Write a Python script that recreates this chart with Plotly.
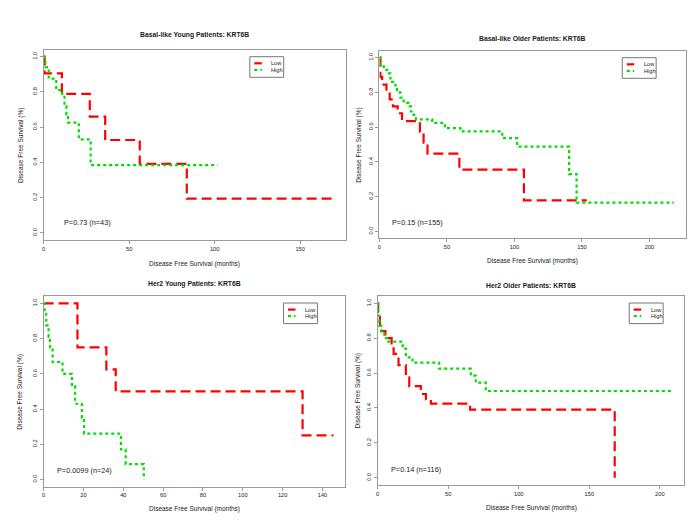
import plotly.graph_objects as go

# ---------------- data ----------------
panel_titles = [
    "Basal-like Young Patients: KRT6B",
    "Basal-like Older Patients: KRT6B",
    "Her2 Young Patients: KRT6B",
    "Her2 Older Patients: KRT6B",
]
pvalue_texts = ["P=0.73 (n=43)", "P=0.15 (n=155)", "P=0.0099 (n=24)", "P=0.14 (n=116)"]
series_names = ["Low", "High"]

# Basal-like Young
by_low_t = [0, 0.6, 10.7, 27, 36, 56.2, 83.7, 170]
by_low_s = [1.0, 0.905, 0.788, 0.659, 0.527, 0.392, 0.195, 0.195]
by_high_t = [0, 0.4, 1.0, 3.0, 7.4, 10.9, 12.2, 13.3, 14.3, 20.6, 27.5, 101.7]
by_high_s = [1.0, 0.97, 0.94, 0.875, 0.81, 0.78, 0.72, 0.67, 0.625, 0.53, 0.385, 0.385]

# Basal-like Older
bo_low_t = [0, 0.7, 2, 5.2, 7.6, 10, 13.5, 16.7, 30, 32.7, 35.6, 59.2, 107, 153.6]
bo_low_s = [1.0, 0.889, 0.845, 0.804, 0.76, 0.72, 0.68, 0.635, 0.574, 0.51, 0.447, 0.355, 0.178, 0.178]
bo_high_t = [0, 0.7, 3.2, 5.6, 8.1, 9.3, 11.8, 13, 15.5, 17.9, 21.6, 23.3, 25.3, 27, 39,
             48.5, 60, 91, 102, 140.5, 146, 218]
bo_high_s = [1.0, 0.96, 0.93, 0.91, 0.88, 0.86, 0.84, 0.80, 0.77, 0.74, 0.72, 0.69, 0.67, 0.645,
             0.625, 0.594, 0.575, 0.537, 0.488, 0.33, 0.165, 0.165]

# Her2 Young
hy_low_t = [0, 17, 31.5, 36.2, 130, 145.5]
hy_low_s = [1.0, 0.75, 0.625, 0.5, 0.25, 0.25]
hy_high_t = [0, 0.5, 1.3, 2.5, 3.2, 4.5, 9.5, 14.2, 15.8, 19.2, 20.3, 38.8, 41.2, 50.3]
hy_high_s = [1.0, 0.94, 0.875, 0.81, 0.75, 0.667, 0.6, 0.53, 0.43, 0.35, 0.26, 0.17, 0.087, 0.0]

# Her2 Older
ho_low_t = [0, 0.3, 1.6, 2.4, 5.5, 9.9, 11.3, 14.8, 20, 22.4, 30.6, 34.2, 37.7, 65.5, 168]
ho_low_s = [1.0, 0.93, 0.87, 0.84, 0.80, 0.77, 0.71, 0.645, 0.575, 0.525, 0.48, 0.45, 0.425, 0.39, 0.0]
ho_high_t = [0, 0.5, 1.2, 2.8, 4.7, 6.4, 17.7, 20, 24.7, 43.6, 66, 69.5, 76.6, 209]
ho_high_s = [1.0, 0.93, 0.87, 0.84, 0.80, 0.78, 0.74, 0.69, 0.66, 0.625, 0.585, 0.545, 0.497, 0.497]

x_tick_sets = [[0, 50, 100, 150], [0, 50, 100, 150, 200],
               [0, 20, 40, 60, 80, 100, 120, 140], [0, 50, 100, 150, 200]]
y_ticks = [0.0, 0.2, 0.4, 0.6, 0.8, 1.0]

panels = [
    (by_low_t, by_low_s, by_high_t, by_high_s),
    (bo_low_t, bo_low_s, bo_high_t, bo_high_s),
    (hy_low_t, hy_low_s, hy_high_t, hy_high_s),
    (ho_low_t, ho_low_s, ho_high_t, ho_high_s),
]

# ---------------- layout geometry (pixels in the 700x525 window) ----------------
W, H = 700, 525
OFF = 8  # page body margin that offsets the figure inside the window
# plot boxes: left, right, top, bottom
boxes = [(41.7, 345.0, 49.5, 240.0), (378.5, 685.5, 50.7, 238.3),
         (41.7, 344.0, 296.3, 486.5), (376.7, 684.3, 296.3, 484.7)]
title_y = [35, 39, 284, 285]
xlab_y = [264.3, 260.7, 509, 507.7]
ylab_x = [18.3, 357.3, 18.3, 356.0]
pval_pos = [(60, 222.3), (389, 222.3), (52.7, 470.7), (387.7, 469.3)]
legend_center_x = [265.5, 639, 299.3, 646]
legend_top = [56.7, 57.7, 303, 303]
LEG_W, LEG_H = 34, 20.6

FONT = "Liberation Sans, Arial, Helvetica, sans-serif"
RED = "#FF0000"
GREEN = "#00DD00"
BOXCOL = "#9a9a9a"
TXT = "#1a1a1a"
RED_DASH = "10px,5px"
GREEN_DASH = "3px,3px"
LW = 2.2

def px(x):
    return (x - OFF) / W

def py(y):
    return 1 - (y - OFF) / H

fig = go.Figure()
layout = dict(width=W, height=H, margin=dict(l=0, r=0, t=0, b=0),
              paper_bgcolor="white", plot_bgcolor="white", showlegend=False,
              font=dict(family=FONT, color=TXT), annotations=[], shapes=[])

styles = [(RED, RED_DASH), (GREEN, GREEN_DASH)]

for i, (lt, ls, ht, hs) in enumerate(panels):
    k = "" if i == 0 else str(i + 1)
    xmax = max(max(lt), max(ht)) * 1.04
    for (tt, ss), name, (col, dash) in zip([(lt, ls), (ht, hs)], series_names, styles):
        fig.add_trace(go.Scatter(x=tt, y=ss, mode="lines", name=name,
                                 line=dict(color=col, width=LW, dash=dash, shape="hv"),
                                 xaxis="x" + k, yaxis="y" + k))
    l, r, t, b = boxes[i]
    common = dict(showline=True, mirror=True, linecolor=BOXCOL, linewidth=1,
                  ticks="outside", ticklen=3, tickcolor=BOXCOL, showgrid=False,
                  zeroline=False, tickfont=dict(size=5.7, family=FONT, color=TXT))
    layout["xaxis" + k] = dict(domain=[px(l), px(r)], range=[0, xmax],
                               anchor="y" + k, tickvals=x_tick_sets[i], **common)
    layout["yaxis" + k] = dict(domain=[py(b), py(t)], range=[-0.04, 1.04],
                               anchor="x" + k, tickvals=y_ticks, tickformat=".1f",
                               tickangle=-90, **common)
    cx = (l + r) / 2
    layout["annotations"] += [
        dict(text="<b>" + panel_titles[i] + "</b>", x=px(cx), y=py(title_y[i]),
             xref="paper", yref="paper", showarrow=False, xanchor="center",
             yanchor="middle", font=dict(size=6.8)),
        dict(text="Disease Free Survival (months)", x=px(cx), y=py(xlab_y[i]),
             xref="paper", yref="paper", showarrow=False, xanchor="center",
             yanchor="middle", font=dict(size=6.5)),
        dict(text="Disease Free Survival (%)", x=px(ylab_x[i]), y=py((t + b) / 2),
             xref="paper", yref="paper", showarrow=False, xanchor="center",
             yanchor="middle", textangle=-90, font=dict(size=6.5)),
        dict(text=pvalue_texts[i], x=px(pval_pos[i][0]), y=py(pval_pos[i][1]),
             xref="paper", yref="paper", showarrow=False, xanchor="left",
             yanchor="middle", font=dict(size=7.3)),
    ]
    # compact R-style legend box
    lx0 = legend_center_x[i] - LEG_W / 2
    ly0 = legend_top[i]
    layout["shapes"].append(dict(type="rect", xref="paper", yref="paper",
                                 x0=px(lx0), x1=px(lx0 + LEG_W),
                                 y0=py(ly0), y1=py(ly0 + LEG_H),
                                 line=dict(color="#777777", width=1), fillcolor="white"))
    for j, (name, (col, dash)) in enumerate(zip(series_names, styles)):
        rowy = ly0 + 6.6 + j * 6.6
        layout["shapes"].append(dict(type="line", xref="paper", yref="paper",
                                     x0=px(lx0 + 4.5), x1=px(lx0 + 12),
                                     y0=py(rowy), y1=py(rowy),
                                     line=dict(color=col, width=LW, dash=dash)))
        layout["annotations"].append(dict(text=name, x=px(lx0 + 19.5), y=py(rowy),
                                          xref="paper", yref="paper", showarrow=False,
                                          xanchor="left", yanchor="middle",
                                          font=dict(size=5.6)))

fig.update_layout(**layout)
fig.write_html("out.html")
